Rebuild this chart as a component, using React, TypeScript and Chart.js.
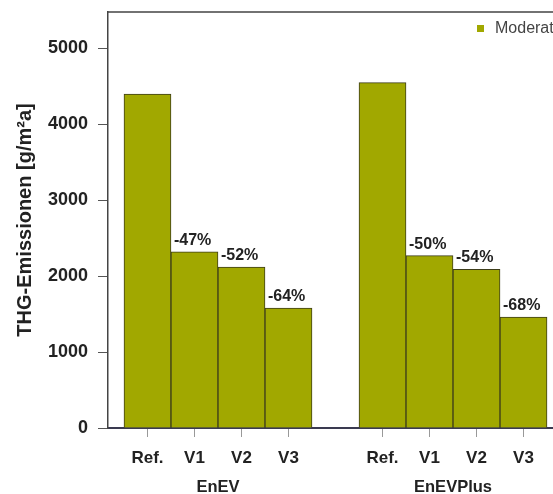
import React, { useEffect, useRef } from 'react';
import { Chart, registerables } from 'chart.js';

Chart.register(...registerables);

const categories = ['Ref.', 'V1', 'V2', 'V3'];
const groups = ['EnEV', 'EnEVPlus'];
const enevValues = [4400, 2320, 2120, 1580];
const enevPlusValues = [4550, 2270, 2090, 1460];
const enevPct = ['', '-47%', '-52%', '-64%'];
const enevPlusPct = ['', '-50%', '-54%', '-68%'];
const yTicks = [0, 1000, 2000, 3000, 4000, 5000];
const seriesLabel = 'Moderat';
const yTitle = 'THG-Emissionen [g/m²a]';

const FONT = "'Liberation Sans', Arial, Helvetica, sans-serif";
const BAR = 'rgb(161,168,0)';
const CANVAS_W = 580;
const CANVAS_H = 494;

const groupValues = [enevValues, enevPlusValues];
const groupPct = [enevPct, enevPlusPct];
const stride = categories.length + 1;

const points: { x: number; y: number }[] = [];
const pctLabels: string[] = [];
const tickPositions: number[] = [];
const tickLabels: string[] = [];
groupValues.forEach((vals, g) => {
  vals.forEach((v, i) => {
    const x = g * stride + i + 0.5;
    points.push({ x, y: v });
    pctLabels.push(groupPct[g][i]);
    tickPositions.push(x);
    tickLabels.push(categories[i]);
  });
});

const decorPlugin = {
  id: 'decor',
  afterDatasetsDraw(chart: any) {
    const { ctx, chartArea } = chart;
    const xs = chart.scales.x;
    ctx.save();
    // box top & right
    ctx.strokeStyle = '#444';
    ctx.lineWidth = 1.5;
    ctx.beginPath();
    ctx.moveTo(chartArea.left, chartArea.top);
    ctx.lineTo(chartArea.right, chartArea.top);
    ctx.lineTo(chartArea.right, chartArea.bottom);
    ctx.stroke();

    // percent labels
    const meta = chart.getDatasetMeta(0);
    ctx.fillStyle = '#222';
    ctx.font = `bold 16px ${FONT}`;
    ctx.textAlign = 'left';
    ctx.textBaseline = 'alphabetic';
    meta.data.forEach((el: any, k: number) => {
      const t = pctLabels[k];
      if (!t) return;
      ctx.fillText(t, el.x - el.width / 2 + 3, el.y - 7);
    });

    // group labels
    ctx.font = `bold 16.5px ${FONT}`;
    ctx.textAlign = 'center';
    ctx.textBaseline = 'middle';
    groups.forEach((gname, g) => {
      const cx = xs.getPixelForValue(g * stride + categories.length / 2);
      ctx.fillText(gname, cx, chartArea.bottom + 59);
    });

    // legend
    ctx.fillStyle = BAR;
    ctx.fillRect(477, 25, 7, 7);
    ctx.fillStyle = '#444';
    ctx.font = `16px ${FONT}`;
    ctx.textAlign = 'left';
    ctx.textBaseline = 'middle';
    ctx.fillText(seriesLabel, 495, 29);
    ctx.restore();
  },
};

export default function App() {
  const ref = useRef<HTMLCanvasElement>(null);
  useEffect(() => {
    document.body.style.margin = '0';
    const chart = new Chart(ref.current as HTMLCanvasElement, {
      type: 'bar',
      data: {
        datasets: [
          {
            label: seriesLabel,
            data: points as any,
            backgroundColor: BAR,
            borderColor: '#3d3d1a',
            borderWidth: 1,
            barPercentage: 1,
            categoryPercentage: 1,
          },
        ],
      },
      options: {
        responsive: false,
        animation: false,
        layout: { padding: { top: 12, right: CANVAS_W - 563, left: 0, bottom: 0 } },
        plugins: { legend: { display: false }, tooltip: { enabled: false } },
        scales: {
          x: {
            type: 'linear',
            offset: false,
            min: -0.34,
            max: 9.34,
            afterBuildTicks: (s: any) => {
              s.ticks = tickPositions.map((v) => ({ value: v }));
            },
            afterFit: (s: any) => {
              s.height = 66;
              s.paddingLeft = 0;
              s.paddingRight = 0;
            },
            ticks: {
              autoSkip: false,
              maxRotation: 0,
              padding: 11,
              color: '#222',
              font: { family: FONT, size: 17, weight: 'bold' },
              callback: (v: any) => {
                const idx = tickPositions.indexOf(Number(v));
                return idx >= 0 ? tickLabels[idx] : '';
              },
            },
            grid: { offset: false, drawOnChartArea: false, drawTicks: true, tickLength: 9, color: '#999' },
            border: { display: true, color: '#3a3a50', width: 2 },
          },
          y: {
            min: 0,
            max: 5480,
            afterBuildTicks: (s: any) => {
              s.ticks = yTicks.map((v) => ({ value: v }));
            },
            afterFit: (s: any) => {
              s.width = 108;
              s.paddingTop = 0;
              s.paddingBottom = 0;
            },
            ticks: {
              padding: 10,
              color: '#222',
              font: { family: FONT, size: 18, weight: 'bold' },
              callback: (v: any) => String(v),
            },
            grid: { drawOnChartArea: false, drawTicks: true, tickLength: 10, color: '#555' },
            border: { display: true, color: '#444', width: 1.5 },
            title: {
              display: true,
              text: yTitle,
              color: '#222',
              font: { family: FONT, size: 20, weight: 'bold' },
              padding: { top: 13, bottom: 0 },
            },
          },
        },
      } as any,
      plugins: [decorPlugin],
    });
    return () => chart.destroy();
  }, []);
  return (
    <div style={{ width: 553, height: 494, overflow: 'hidden', position: 'relative' }}>
      <canvas ref={ref} width={CANVAS_W} height={CANVAS_H} style={{ width: CANVAS_W, height: CANVAS_H, display: 'block' }} />
    </div>
  );
}
